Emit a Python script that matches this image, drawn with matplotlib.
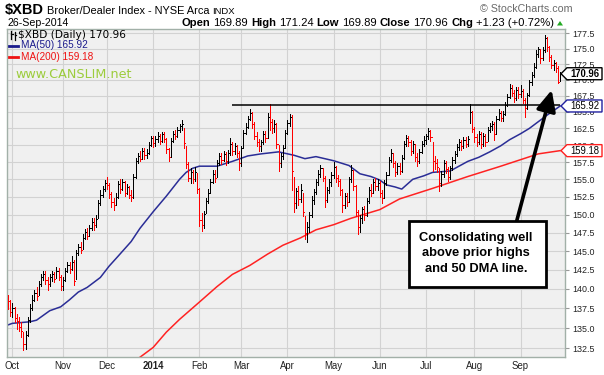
import numpy as np
import pandas as pd
import matplotlib
matplotlib.use("Agg")
import matplotlib.pyplot as plt
from matplotlib import font_manager
from matplotlib.lines import Line2D
from matplotlib.patches import Polygon, Rectangle
from matplotlib.ticker import NullLocator

# ---- data (daily bars, 27-Sep-2013 .. 26-Sep-2014) ----
prev_close = 139.2

closes = [
    138.4, 137.0,  # Sep
    137.6, 136.3, 135.9, 135.2, 134.6, 133.0, 134.2, 136.0, 137.6, 138.6, 139.5, 139.1,
    140.6, 141.6, 142.0, 141.2, 140.6, 141.5, 141.9, 141.3, 142.3, 141.6, 140.4,  # Oct
    141.2, 142.4, 143.2, 142.6, 143.6, 141.0, 144.8, 145.6, 145.2, 146.8, 147.6, 147.1,
    148.2, 149.0, 148.5, 149.4, 151.6, 152.7, 153.6, 154.5,  # Nov
    154.2, 152.9, 151.7, 151.3, 152.5, 154.3, 153.6, 154.6, 153.1, 153.9, 152.8, 152.5,
    155.4, 157.7, 158.4, 158.0, 159.1, 158.5, 158.9, 160.0, 161.0,  # Dec
    160.3, 160.9, 161.3, 160.6, 161.6, 160.9, 159.4, 158.3, 160.6, 161.7, 161.3, 162.3,
    162.8, 163.2, 160.3, 157.2, 155.2, 156.0, 155.0, 156.1, 153.6,  # Jan
    149.2, 148.6, 150.1, 151.9, 153.0, 154.6, 155.8, 155.2, 157.3, 158.4, 157.8, 158.7,
    157.6, 158.8, 160.2, 159.2, 159.8, 158.8, 157.3,  # Feb
    159.5, 161.8, 162.7, 164.0, 164.8, 163.2, 161.4, 160.4, 159.8, 160.4, 161.7, 161.0,
    164.2, 163.4, 162.5, 163.2, 160.2, 157.3, 158.4, 159.6, 161.8,  # Mar
    163.3, 164.2, 156.2, 151.6, 153.3, 152.2, 153.4, 150.4, 147.4, 148.3, 149.9, 152.1,
    153.2, 154.6, 155.8, 156.6, 155.2, 152.1, 153.5, 154.6, 155.6,  # Apr
    156.8, 155.2, 154.7, 153.4, 151.3, 152.6, 151.8, 155.0, 156.4, 154.0, 150.3, 148.3,
    149.5, 150.8, 149.9, 151.9, 153.5, 153.1, 154.6, 154.0, 154.5,  # May
    153.1, 152.4, 154.5, 155.6, 157.8, 158.8, 157.3, 156.1, 157.0, 156.2, 158.1, 160.2,
    161.0, 160.4, 159.1, 160.2, 158.3, 157.6, 159.0, 160.2, 160.8,  # Jun
    161.3, 162.1, 161.2, 157.6, 157.3, 156.8, 154.5, 155.8, 157.3, 156.5, 155.3, 156.7,
    157.8, 158.7, 159.7, 160.4, 159.8, 160.8, 160.2, 160.9, 165.0, 162.4,  # Jul
    161.2, 160.4, 161.7, 160.1, 161.4, 160.5, 162.3, 162.9, 163.2, 161.7, 164.0, 164.8,
    164.1, 164.7, 166.1, 167.3, 168.7, 168.0, 167.2, 168.4, 167.7,  # Aug
    168.3, 166.9, 165.6, 167.6, 169.6, 170.8, 172.0, 174.2, 174.9, 173.4, 174.8, 176.7,
    175.3, 173.6, 172.4, 172.7, 171.8, 169.73, 170.96,  # Sep
]

highs = [
    139.2, 138.6,
    138.2, 137.7, 136.8, 136.4, 135.8, 134.5, 134.6, 136.4, 138.0, 139.2, 139.9, 140.3,
    141.0, 142.0, 142.4, 142.3, 141.5, 141.9, 142.3, 142.2, 142.9, 142.8, 141.8,
    141.6, 142.7, 143.6, 143.5, 144.4, 143.8, 145.2, 146.0, 146.2, 147.3, 148.0, 148.2,
    148.6, 149.5, 149.6, 150.0, 152.0, 153.4, 154.1, 154.9,
    155.4, 154.5, 153.2, 152.4, 153.0, 154.7, 155.0, 155.0, 154.7, 154.3, 154.0, 153.4,
    155.7, 158.1, 158.8, 159.1, 159.5, 159.6, 159.4, 160.5, 161.4,
    161.3, 161.4, 161.9, 161.6, 162.0, 161.9, 161.0, 159.6, 161.0, 162.1, 162.2, 162.7,
    163.2, 163.7, 162.6, 159.8, 157.5, 156.7, 156.3, 156.8, 155.9,
    153.8, 150.2, 150.5, 152.3, 153.6, 155.0, 156.3, 156.4, 157.8, 158.9, 158.9, 159.2,
    159.0, 159.3, 161.0, 160.5, 160.3, 160.0, 159.2,
    159.9, 162.2, 163.3, 164.4, 165.4, 165.0, 163.5, 161.9, 160.9, 160.8, 162.1, 162.1,
    164.8, 166.3, 163.9, 163.7, 163.3, 160.0, 158.9, 160.0, 162.2,
    163.8, 164.7, 164.5, 155.4, 153.8, 154.0, 154.3, 153.0, 149.8, 149.0, 150.3, 152.6,
    153.6, 155.0, 156.3, 157.1, 156.7, 155.5, 153.9, 155.1, 156.1,
    157.5, 157.0, 155.6, 155.0, 153.6, 153.0, 153.1, 155.4, 157.1, 156.4, 154.2, 150.6,
    150.0, 151.1, 151.2, 152.3, 153.9, 154.3, 155.1, 155.2, 155.0,
    154.8, 153.5, 154.9, 156.0, 158.2, 159.4, 158.9, 157.6, 157.4, 157.3, 158.5, 160.6,
    161.5, 161.4, 160.7, 160.6, 160.1, 158.8, 159.4, 160.6, 161.3,
    161.7, 162.6, 162.3, 160.5, 158.4, 157.9, 156.6, 156.2, 157.8, 157.6, 156.8, 157.0,
    158.2, 159.1, 160.1, 160.9, 160.7, 161.2, 161.2, 161.3, 166.3, 165.1,
    162.7, 161.7, 162.1, 161.9, 161.8, 161.6, 162.7, 163.3, 163.6, 163.4, 164.4, 165.5,
    165.2, 165.1, 166.5, 167.7, 169.3, 169.2, 168.4, 168.8, 168.9,
    169.2, 168.6, 167.2, 168.0, 170.0, 171.2, 172.6, 174.7, 175.3, 174.9, 175.2, 177.3,
    176.9, 175.4, 173.9, 173.1, 172.8, 172.2, 171.24,
]

lows = [
    137.4, 136.5,
    136.4, 135.8, 134.9, 134.6, 133.9, 132.3, 132.4, 134.0, 135.8, 137.3, 138.4, 138.6,
    139.2, 140.4, 141.2, 140.7, 139.8, 140.4, 141.0, 140.9, 141.4, 141.2, 139.9,
    139.9, 141.0, 142.2, 142.1, 142.5, 140.5, 141.3, 144.5, 144.7, 145.3, 146.6, 146.6,
    147.0, 147.9, 147.9, 148.3, 149.5, 151.4, 152.5, 153.3,
    153.6, 152.4, 151.0, 150.6, 151.3, 152.4, 153.1, 153.4, 152.6, 152.9, 152.3, 151.9,
    152.3, 155.2, 157.4, 157.6, 157.9, 158.0, 158.1, 158.7, 159.8,
    159.7, 159.9, 160.5, 160.1, 160.4, 160.4, 158.9, 157.6, 158.3, 160.4, 160.9, 161.2,
    161.9, 162.3, 159.6, 156.7, 154.8, 154.4, 154.5, 154.8, 153.1,
    148.4, 147.8, 148.2, 150.2, 151.6, 153.0, 154.4, 154.6, 155.4, 157.1, 157.2, 157.6,
    157.1, 157.4, 158.6, 158.6, 158.7, 158.2, 156.4,
    156.9, 159.6, 161.6, 162.5, 163.7, 162.6, 160.9, 159.8, 159.2, 159.2, 160.2, 160.5,
    161.0, 162.3, 161.8, 162.0, 159.6, 156.2, 156.8, 158.0, 159.5,
    161.6, 162.8, 153.5, 150.3, 150.9, 151.4, 151.8, 149.8, 146.6, 146.3, 147.6, 149.7,
    151.5, 152.9, 154.2, 155.3, 154.7, 151.0, 151.8, 153.1, 154.0,
    155.2, 154.6, 154.0, 152.8, 150.4, 150.9, 151.2, 151.7, 154.6, 153.5, 149.8, 147.3,
    147.6, 148.9, 149.3, 149.8, 151.6, 152.6, 153.0, 153.4, 153.4,
    152.5, 151.6, 152.4, 154.2, 155.6, 157.5, 156.8, 155.5, 155.8, 155.7, 156.1, 158.0,
    159.8, 159.9, 158.5, 158.9, 157.6, 157.0, 157.4, 158.8, 159.8,
    160.2, 160.9, 160.6, 156.2, 156.5, 156.0, 153.3, 154.0, 155.4, 155.9, 154.8, 155.0,
    156.3, 157.4, 158.4, 159.3, 159.3, 159.6, 159.7, 159.8, 163.3, 161.9,
    160.4, 159.9, 160.2, 159.6, 159.8, 159.9, 160.6, 161.9, 162.3, 160.8, 161.7, 163.8,
    163.6, 163.6, 164.6, 165.9, 167.2, 167.5, 166.6, 166.9, 167.1,
    167.3, 166.4, 164.3, 165.4, 167.4, 169.2, 170.5, 171.8, 173.7, 172.6, 173.1, 174.5,
    174.6, 173.0, 171.9, 171.6, 171.3, 169.5, 169.89,
]

# moving averages read at sample bars (bar index, 0 = 1-Oct-2013)
ma50_idx = [-2, 0, 8, 11, 17, 22, 26, 30, 34, 40, 44, 48, 54, 58, 64, 70, 76, 79, 82,
            85, 93, 100, 107, 113, 121, 128, 133, 138, 146, 153, 158, 163, 167, 170, 174,
            177, 182, 187, 191, 199, 203, 207, 212, 217, 222, 226, 231, 235, 239, 243,
            246, 249]
ma50_val = [135.4, 135.6, 135.8, 136.0, 137.2, 137.7, 138.6, 139.6, 140.2, 141.5, 143.0,
            144.3, 146.3, 148.1, 150.4, 152.6, 155.0, 156.0, 156.6, 156.9, 156.9, 157.6,
            158.4, 158.7, 159.0, 158.5, 158.0, 158.3, 157.7, 157.0, 155.8, 155.4, 154.9,
            154.2, 153.9, 153.6, 155.0, 155.5, 156.0, 156.2, 156.9, 157.6, 158.2, 159.0,
            159.9, 160.8, 161.7, 162.5, 163.5, 164.5, 165.2, 165.92]
ma200_idx = [58, 64, 70, 76, 85, 93, 100, 108, 116, 123, 131, 138, 146, 154, 167, 176,
             191, 207, 222, 239, 249]
ma200_val = [131.4, 132.6, 134.5, 136.1, 138.3, 140.3, 141.9, 143.1, 144.6, 145.8, 146.8,
             147.9, 148.6, 149.5, 150.7, 152.2, 153.7, 155.4, 156.9, 158.7, 159.18]

holidays = ["2013-11-28", "2013-12-25", "2014-01-01", "2014-01-20", "2014-02-17",
            "2014-04-18", "2014-05-26", "2014-07-04", "2014-09-01"]
month_labels = ["Oct", "Nov", "Dec", "2014", "Feb", "Mar", "Apr", "May", "Jun", "Jul",
                "Aug", "Sep"]
yticks = [132.5, 135.0, 137.5, 140.0, 142.5, 145.0, 147.5, 150.0, 152.5, 155.0, 157.5,
          160.0, 162.5, 165.0, 167.5, 170.0, 172.5, 175.0, 177.5]
resistance = 166.0
resistance_from = 100

# ---- fonts ----
installed = {f.name for f in font_manager.fontManager.ttflist}
if "Liberation Sans Narrow" in installed:
    NARROW, nk = "Liberation Sans Narrow", 1.0
else:
    NARROW, nk = "Liberation Sans", 0.84
ARIAL = "Liberation Sans"

W, H = 604, 375
fig = plt.figure(figsize=(W / 100, H / 100), dpi=100)
fig.patch.set_facecolor("white")


def fx(x):
    return x / W


def fy(y):
    return 1 - y / H


ax = fig.add_axes([fx(7.5), fy(357), (565 - 7.5) / W, (357 - 29) / H])
ax.set_facecolor("#f0f0f0")

closes = np.array(closes)
highs = np.array(highs)
lows = np.array(lows)
xs = np.arange(len(closes)) - 2
prev = np.concatenate([[prev_close], closes[:-1]])
cols = np.where(closes < prev, "#ff0000", "#000000")

ax.vlines(xs, lows, highs, colors=cols, lw=0.72, antialiased=False, zorder=3)
ax.hlines(closes, xs, xs + 0.55, colors=cols, lw=0.72, antialiased=False, zorder=3)

ax.plot(ma50_idx, ma50_val, color="#2a2d96", lw=1.1, zorder=2)
ax.plot(ma200_idx, ma200_val, color="#ff2222", lw=1.1, zorder=2)
ax.hlines(resistance, resistance_from, xs[-1], color="black", lw=1.1, zorder=4)

ax.set_yscale("log")
ax.set_xlim(-2.2, 251.2)
ax.set_ylim(131.43, 178.21)
ax.yaxis.tick_right()
ax.set_yticks(yticks)
ax.set_yticklabels(["%.1f" % t for t in yticks])
ax.yaxis.set_minor_locator(NullLocator())
ax.tick_params(axis="y", length=3, width=0.8, color="#999999", pad=2,
               labelsize=7.6 * nk, labelcolor="#222222")
for lab in ax.get_yticklabels():
    lab.set_family(NARROW)

dates = pd.bdate_range("2013-09-27", "2014-09-26")
dates = dates[~dates.isin(pd.to_datetime(holidays))]
mon = dates.month.values
first = [i for i in range(1, len(dates)) if mon[i] != mon[i - 1]]
ax.set_xticks([i - 2 for i in first])
ax.set_xticklabels(month_labels)
ax.tick_params(axis="x", length=0, pad=3, labelsize=8.3 * nk, labelcolor="#222222")
for lab in ax.get_xticklabels():
    lab.set_family(NARROW)
    if lab.get_text() == "2014":
        lab.set_fontweight("bold")

ax.grid(True, color="#d2d2d2", lw=0.8)
ax.set_axisbelow(True)
for s in ax.spines.values():
    s.set_color("#a2b0a8")
    s.set_linewidth(1.0)

# ---- header texts ----
renderer = fig.canvas.get_renderer()


def row(pieces, x, y, ha="left", gap=3.0):
    if ha == "right":
        pieces = pieces[::-1]
    for s, kw in pieces:
        t = fig.text(fx(x), fy(y), s, ha=ha, va="baseline", **kw)
        w = t.get_window_extent(renderer).width
        x = x + w + gap if ha == "left" else x - w - gap


row([(r"\$XBD", dict(family=ARIAL, fontsize=10.5, fontweight="bold")),
     ("Broker/Dealer Index - NYSE Arca", dict(family=ARIAL, fontsize=7.9)),
     ("INDX", dict(family=ARIAL, fontsize=6.8))], 5, 14)
fig.text(fx(573), fy(12), "\u00a9 StockCharts.com", ha="right", va="baseline",
         family=ARIAL, fontsize=7.7, color="#6a6a6a")
fig.text(fx(7), fy(26.5), "26-Sep-2014", ha="left", va="baseline", family=ARIAL,
         fontsize=7.7)
B = dict(family=ARIAL, fontsize=8.1, fontweight="bold")
R = dict(family=ARIAL, fontsize=8.1)
row([("Open", B), ("169.89", R), ("High", B), ("171.24", R), ("Low", B),
     ("169.89", R), ("Close", B), ("170.96", R), ("Chg", B), ("+1.23 (+0.72%)", R)],
    554, 26.5, ha="right")
fig.patches.append(Polygon([(fx(557), fy(25.5)), (fx(563), fy(25.5)), (fx(560), fy(21))],
                           closed=True, fc="#22aa22", ec="none", transform=fig.transFigure))

# legend block inside the plot
for x0, y0, y1 in [(11, 30.5, 38.5), (14.5, 31.5, 39.5)]:
    fig.add_artist(Line2D([fx(x0), fx(x0)], [fy(y0), fy(y1)], color="black", lw=0.9))
    fig.add_artist(Line2D([fx(x0), fx(x0 + 1.6)], [fy(y0 + 3), fy(y0 + 3)], color="black", lw=0.9))
fig.text(fx(18), fy(34.5), r"\$XBD (Daily) 170.96", va="center", family="DejaVu Sans",
         fontsize=7.6)
fig.add_artist(Line2D([fx(8.5), fx(17.5)], [fy(45.5), fy(45.5)], color="#1a1a8c", lw=2))
fig.text(fx(21), fy(45.5), "MA(50) 165.92", va="center", family=ARIAL, fontsize=7.2,
         color="#1a1a8c")
fig.add_artist(Line2D([fx(8.5), fx(17.5)], [fy(57), fy(57)], color="#ee1111", lw=2))
fig.text(fx(21), fy(57), "MA(200) 159.18", va="center", family=ARIAL, fontsize=7.2,
         color="#ee1111")
fig.text(fx(15.5), fy(74.5), "www.CANSLIM.net", va="center", family="DejaVu Sans",
         fontsize=9.2, color="#9ccc3c")

# ---- price tags on the right axis ----
fig.canvas.draw()


def tag(price, edge, bold):
    yc = H - ax.transData.transform((0, price))[1]
    pts = [(561, yc), (567, yc - 6), (602, yc - 6), (602, yc + 6), (567, yc + 6)]
    fig.patches.append(Polygon([(fx(a), fy(b)) for a, b in pts], closed=True, fc="white",
                               ec=edge, lw=1.0, transform=fig.transFigure, zorder=5))
    fig.text(fx(584.5), fy(yc), "%.2f" % price, ha="center", va="center", family=NARROW,
             fontsize=8.2 * nk, fontweight="bold" if bold else "normal", zorder=6)


tag(closes[-1], "black", True)
tag(ma50_val[-1], "#2020a0", False)
tag(ma200_val[-1], "#ff2020", False)

# ---- annotation ----
ax.annotate("", xy=(551.7, H - 90), xycoords="figure pixels",
            xytext=(516.7, H - 221), textcoords="figure pixels",
            arrowprops=dict(arrowstyle="-|>,head_length=0.9,head_width=0.42",
                            lw=2.6, color="black", shrinkA=0, shrinkB=0,
                            mutation_scale=14), zorder=7)
fig.patches.append(Rectangle((fx(409), fy(287)), (546 - 409) / W, (287 - 221) / H,
                             fc="white", ec="black", lw=2.0, transform=fig.transFigure,
                             zorder=8))
for txt, yy in [("Consolidating well", 237.5), ("above prior highs", 253),
                ("and 50 DMA line.", 268.5)]:
    fig.text(fx(476), fy(yy), txt, ha="center", va="center", family=NARROW,
             fontsize=11 * nk, fontweight="bold", zorder=9)

fig.savefig("out.png", dpi=100)
